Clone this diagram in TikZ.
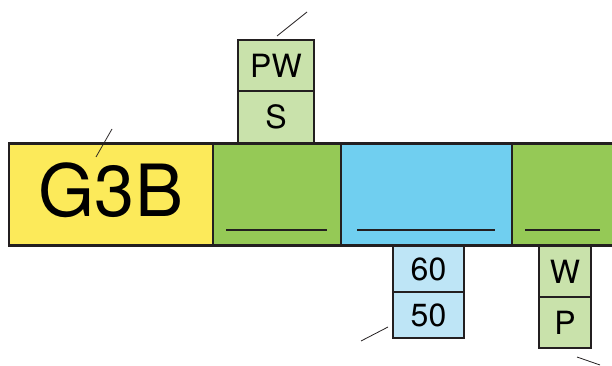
\documentclass[tikz,border=0pt]{standalone}
\usepackage{fontspec}
\setmainfont{TeX Gyre Heros}
\usepackage{tikz}
\usetikzlibrary{positioning}
\definecolor{barline}{HTML}{231F20}
\definecolor{barYellow}{HTML}{FCEA5A}
\definecolor{barGreen}{HTML}{95C956}
\definecolor{tagGreen}{HTML}{C9E2AB}
\definecolor{barBlue}{HTML}{70CFF0}
\definecolor{tagBlue}{HTML}{BEE5F6}

\begin{document}
\begin{tikzpicture}[x=1pt,y=-1pt,
		cell/.style={rectangle, draw=barline, line width=2.4pt, inner sep=0pt, outer sep=0pt},
		tag/.style={cell, font=\fontsize{32}{32}\selectfont},
		underline/.style={draw=barline, line width=2.2pt},
		leader/.style={draw=barline, line width=0.8pt}]
	\useasboundingbox (0,0) rectangle (612,366);
	\clip (0,0) rectangle (612,366);
	% main bar
	\node[cell, fill=barYellow, minimum width=204, minimum height=102] (g3b) at (111,194.5) {};
	\node[cell, fill=barGreen, minimum width=128, minimum height=102, right=0pt of g3b] (pws) {};
	\node[cell, fill=barBlue, minimum width=171, minimum height=102, right=0pt of pws] (sixty) {};
	\node[cell, fill=barGreen, minimum width=128, minimum height=102, right=0pt of sixty] (wp) {};
	\node[font=\fontsize{72}{72}\selectfont] at ([yshift=4pt]g3b.center) {G3B};
	% tags
	\node[tag, fill=tagGreen, minimum width=76, minimum height=52, anchor=south] (s) at (276,143) {S};
	\node[tag, fill=tagGreen, minimum width=76, minimum height=51, above=0pt of s] (pw) {PW};
	\node[tag, fill=tagBlue, minimum width=71, minimum height=46, anchor=north] (t60) at (428.5,246) {60};
	\node[tag, fill=tagBlue, minimum width=71, minimum height=46, below=0pt of t60] (t50) {50};
	\node[tag, fill=tagGreen, minimum width=52, minimum height=51, anchor=north] (w) at (565,246) {W};
	\node[tag, fill=tagGreen, minimum width=52, minimum height=51, below=0pt of w] (p) {P};
	% underlines
	\draw[underline] (226,230) -- (327,230);
	\draw[underline] (357,230) -- (495,230);
	\draw[underline] (525,230) -- (600,230);
	% leaders
	\draw[leader] (96,157) -- (112,129);
	\draw[leader] (277,36) -- (307,12);
	\draw[leader] (361,341) -- (388,327);
	\draw[leader] (577,357) -- (600,365);
\end{tikzpicture}
\end{document}
